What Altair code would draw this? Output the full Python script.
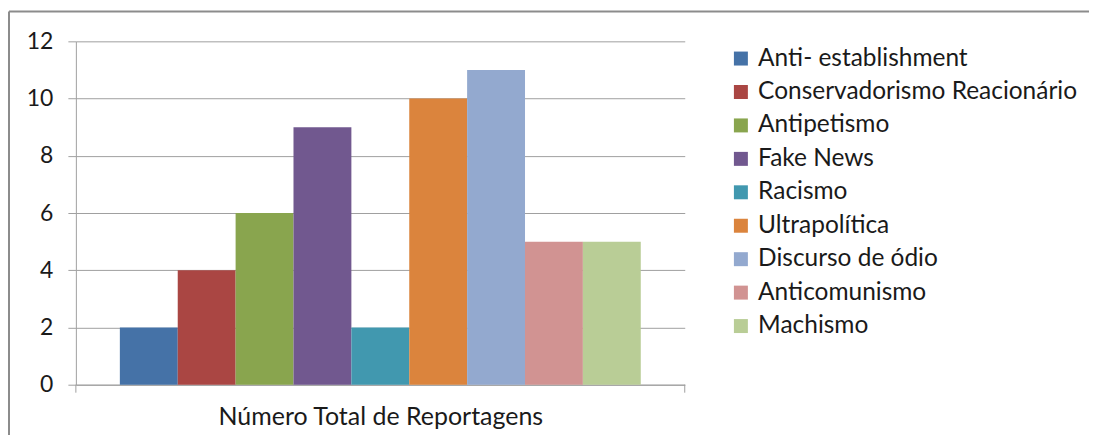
import altair as alt
import pandas as pd

categories = ["Anti- establishment", "Conservadorismo Reacionário", "Antipetismo", "Fake News",
              "Racismo", "Ultrapolítica", "Discurso de ódio", "Anticomunismo", "Machismo"]
values = [2, 4, 6, 9, 2, 10, 11, 5, 5]
colors = ["#4572A7", "#AA4643", "#89A54E", "#71588F", "#4198AF",
          "#DB843D", "#93A9CF", "#D19392", "#B9CD96"]
group_label = "Número Total de Reportagens"

df = pd.DataFrame({"serie": categories, "valor": values})

W, H = 610, 344
FONT = "Lato"

bars = alt.Chart(df).mark_bar(size=58).encode(
    x=alt.X("serie:N", sort=categories,
            scale=alt.Scale(paddingInner=0, paddingOuter=0.76),
            axis=alt.Axis(title=group_label, labels=False, ticks=False,
                          domainColor="#a0a0a0", domainWidth=1,
                          titleFont=FONT, titleFontSize=25, titleFontWeight="normal",
                          titleColor="#1a1a1a", titlePadding=20)),
    y=alt.Y("valor:Q", scale=alt.Scale(domain=[0, 12]),
            axis=alt.Axis(title=None, values=[0, 2, 4, 6, 8, 10, 12],
                          tickSize=8, tickColor="#a0a0a0", labelPadding=15,
                          labelFont=FONT, labelFontSize=23, labelColor="#1a1a1a",
                          gridColor="#a0a0a0", domainColor="#a0a0a0")),
    color=alt.Color("serie:N", sort=categories,
                    scale=alt.Scale(domain=categories, range=colors),
                    legend=alt.Legend(title=None, orient="none", legendX=654, legendY=5,
                                      symbolType="square", symbolSize=196,
                                      symbolStrokeWidth=0, labelFont=FONT,
                                      labelFontSize=24.5, labelColor="#1a1a1a",
                                      labelOffset=5, rowPadding=8.5, padding=0,
                                      labelLimit=400)),
)

edge_df = pd.DataFrame({"pos": ["left", "right"]})
ticks_left = alt.Chart(edge_df.iloc[:1]).mark_rule(color="#a0a0a0").encode(
    x=alt.value(0), y=alt.value(H), y2=alt.value(H + 8))
ticks_right = alt.Chart(edge_df.iloc[1:]).mark_rule(color="#a0a0a0").encode(
    x=alt.value(W), y=alt.value(H), y2=alt.value(H + 8))

border_top = alt.Chart(edge_df.iloc[:1]).mark_rule(color="#8c8c8c", strokeWidth=2).encode(
    x=alt.value(-67), x2=alt.value(1100), y=alt.value(-30))
border_left = alt.Chart(edge_df.iloc[:1]).mark_rule(color="#8c8c8c", strokeWidth=2).encode(
    x=alt.value(-67), y=alt.value(-30), y2=alt.value(500))

chart = alt.layer(bars, ticks_left, ticks_right, border_top, border_left).properties(
    width=W, height=H,
    autosize=alt.AutoSizeParams(type="none"),
    padding={"left": 68, "top": 33, "right": 405, "bottom": 50},
).configure_view(stroke=None).configure_axis(grid=True).configure_axisX(grid=False)

chart.save("out.html", embed_options={"renderer": "svg", "actions": False})
